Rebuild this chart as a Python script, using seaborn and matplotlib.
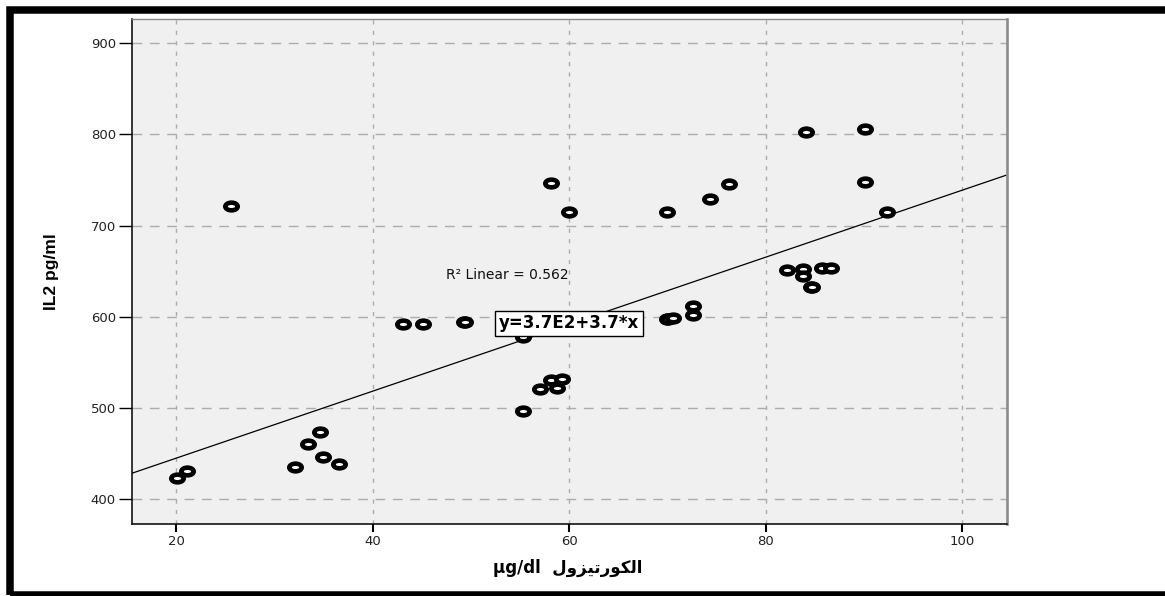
import numpy as np
import pandas as pd
import matplotlib
matplotlib.use("Agg")
import matplotlib.pyplot as plt
from matplotlib.path import Path
from matplotlib.patches import Rectangle
import seaborn as sns

# ---------------- data ----------------
cortisol = [20.07, 21.15, 25.59, 32.13, 33.45, 34.61, 34.98, 36.58, 43.12, 45.15,
            49.30, 49.40, 55.32, 55.32, 57.08, 58.10, 58.71, 59.25, 58.13, 59.96,
            69.90, 70.00, 70.57, 69.90, 72.60, 72.60, 74.30, 76.26, 82.20, 83.73,
            83.73, 84.57, 84.70, 85.76, 86.67, 84.13, 90.06, 90.06, 92.33]
il2 = [423.7, 431.0, 721.6, 435.4, 460.6, 473.8, 446.7, 438.4, 592.2, 592.2,
       594.0, 594.5, 497.2, 578.3, 521.0, 530.8, 521.7, 532.2, 747.1, 714.7,
       597.7, 598.0, 598.5, 714.7, 612.0, 601.8, 729.6, 745.7, 651.1, 652.2,
       645.2, 632.5, 632.8, 653.3, 653.3, 803.0, 805.7, 747.6, 714.7]

fit_intercept = 371.5
fit_slope = 3.675
r2_label = "R\u00b2 Linear = 0.562"
eq_label = "y=3.7E2+3.7*x"

x_ticks = [20, 40, 60, 80, 100]
y_ticks = [400, 500, 600, 700, 800, 900]
x_limits = (15.5, 104.5)
y_limits = (372.9, 926.6)

# Arabic word "الكورتيزول" written in shaped (presentation) forms, visual order
arabic_word = "\uFEDD\uFEED\uFEB0\uFEF4\uFE97\uFEAD\uFEEE\uFEDC\uFEDF\uFE8D"
x_label = "\u00b5g/dl  " + arabic_word
y_label = "IL2 pg/ml"

df = pd.DataFrame({"cortisol": cortisol, "il2": il2})

# ---------------- style ----------------
sns.set_style("ticks")
plt.rcParams["font.family"] = ["DejaVu Sans"]

W, H = 1165, 596
fig = plt.figure(figsize=(W / 100, H / 100), dpi=100)
fig.patch.set_facecolor("white")

ax_l, ax_r, ax_t, ax_b = 131.7, 1006.7, 19.0, 524.0
ax = fig.add_axes([ax_l / W, 1 - ax_b / H, (ax_r - ax_l) / W, (ax_b - ax_t) / H])
ax.set_facecolor("#F0F0F0")

# elliptical ring marker
circ = Path.unit_circle()
ring = Path(circ.vertices * np.array([1.0, 0.62]), circ.codes)

ax.set_axisbelow(True)
ax.xaxis.grid(True, linestyle=(0, (3, 4.5)), color="#acacac", lw=1.0)
ax.yaxis.grid(True, linestyle=(0, (7, 5.5)), color="#acacac", lw=1.0)

ax.axline((0, fit_intercept), slope=fit_slope, color="black", lw=0.9, zorder=2)

sns.scatterplot(data=df, x="cortisol", y="il2", ax=ax, marker=ring, s=80,
                facecolor="white", edgecolor="black", linewidth=3.3, zorder=3,
                legend=False)

ax.set_xlim(*x_limits)
ax.set_ylim(*y_limits)
ax.set_xticks(x_ticks)
ax.set_yticks(y_ticks)
ax.set_xticklabels([str(t) for t in x_ticks])
ax.set_yticklabels([str(t) for t in y_ticks])

ax.tick_params(axis="y", length=9.4, width=1.0, pad=2, labelsize=9.5,
               labelcolor="#222222", color="black")
ax.tick_params(axis="x", length=5.8, width=1.5, pad=2, labelsize=9.5,
               labelcolor="#222222", color="black")

for side in ["left", "bottom"]:
    ax.spines[side].set_color("black")
    ax.spines[side].set_linewidth(1.1)
ax.spines["top"].set_color("#8a8a8a")
ax.spines["top"].set_linewidth(1.0)
ax.spines["right"].set_color("#8c8c8c")
ax.spines["right"].set_linewidth(1.9)

ax.set_xlabel(x_label, fontsize=12, fontweight="bold", color="black")
ax.xaxis.set_label_coords(0.4986, -0.0871)
ax.xaxis.label.set_va("center")

ax.set_ylabel(y_label, fontsize=12.5, fontweight="bold", color="black",
              family=["Liberation Sans", "DejaVu Sans"])
ax.yaxis.set_label_coords(-0.0911, 0.5)
ax.yaxis.label.set_va("center")

ax.text(47.5, 646, r2_label, ha="left", va="center", fontsize=10, color="#111111",
        zorder=4)
ax.text(60, 593, eq_label, ha="center", va="center", fontsize=12,
        fontweight="bold", color="black", zorder=5,
        bbox=dict(boxstyle="square,pad=0.22", fc="white", ec="black", lw=1.0))

# thick black frame (left, top, bottom; the right side runs off the picture)
fx0, fx1, fy0, fy1 = 9.7, 1185.0, 10.0, 594.7
frame = Rectangle((fx0 / W, 1 - fy1 / H), (fx1 - fx0) / W, (fy1 - fy0) / H,
                  transform=fig.transFigure, fill=False, ec="black", lw=5.4,
                  zorder=10)
fig.patches.append(frame)

fig.savefig("out.png", dpi=100, facecolor="white")
